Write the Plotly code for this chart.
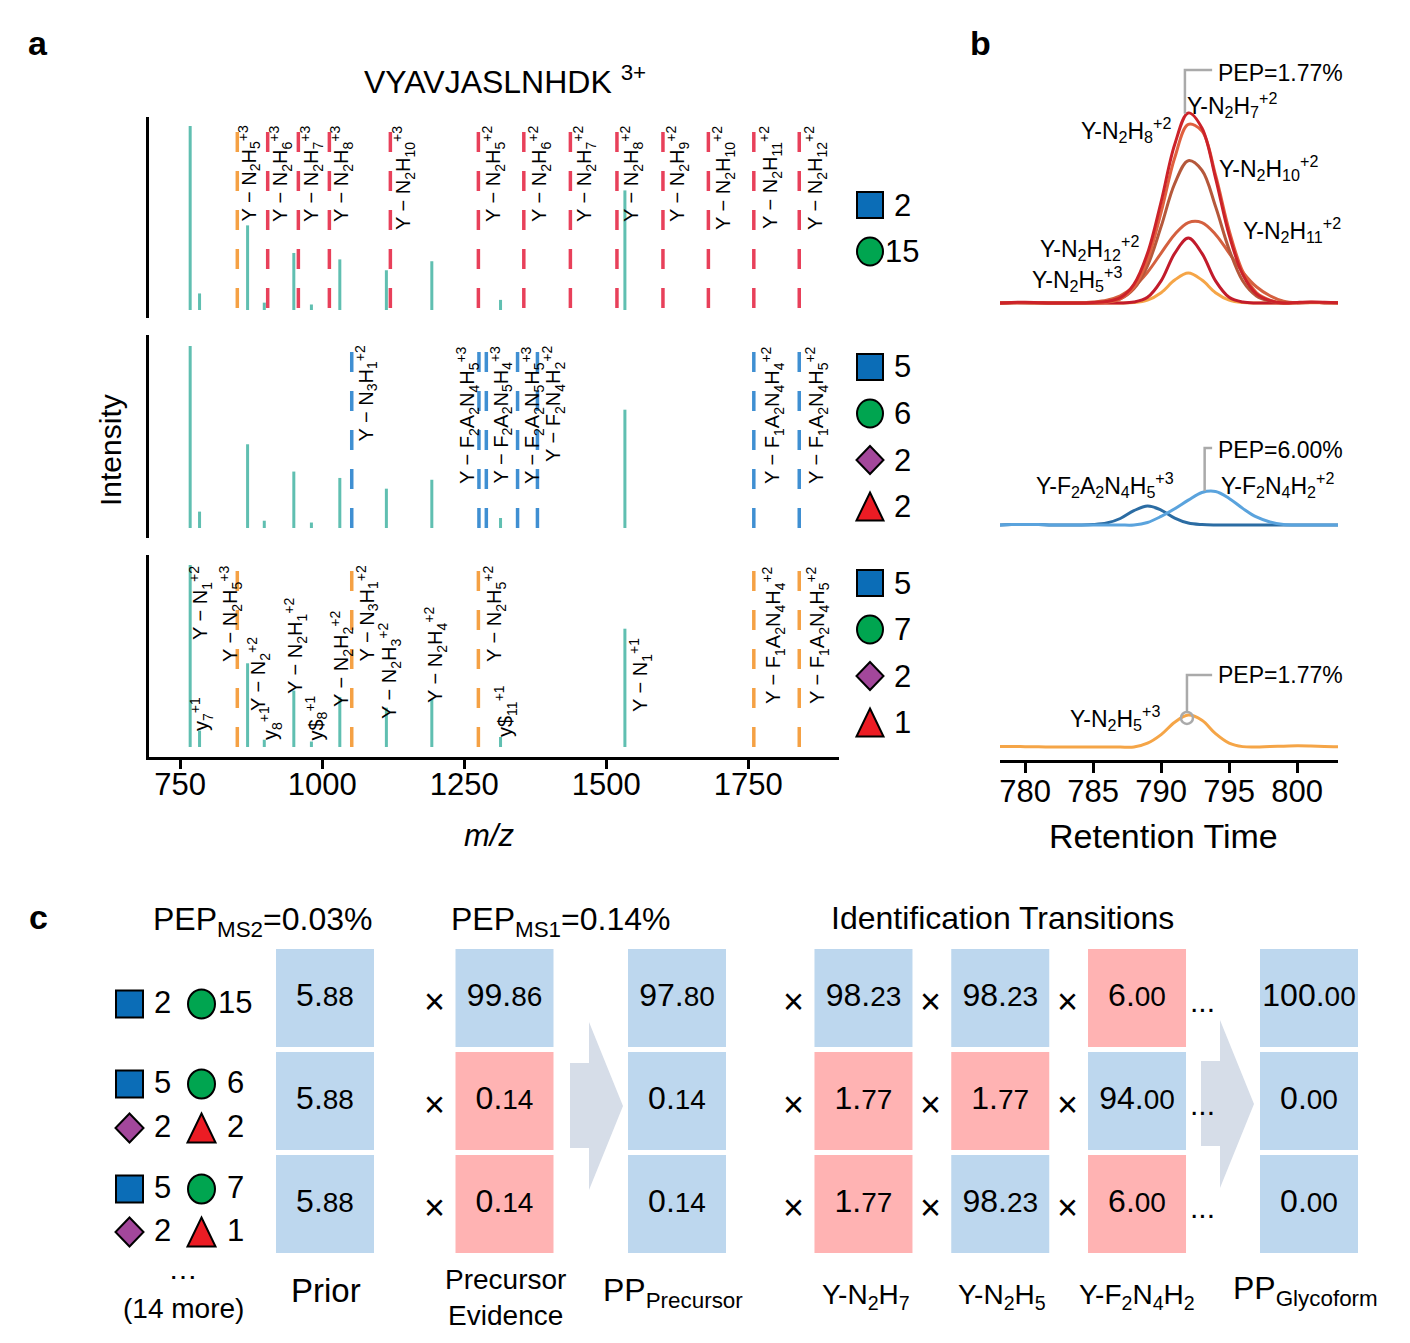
import plotly.graph_objects as go

# the page body has an 8px margin: the figure is drawn 8px in from the window edge
OFF = 8
W, H = 1410 - 2 * OFF, 1343 - 2 * OFF
FONT = "Liberation Sans, Arial, Helvetica, sans-serif"


def PX(x):
    return (x - OFF) / W


def PY(y):
    return 1 - (y - OFF) / H


# ======================= DATA =======================
# panel a : observed MS2 peaks (m/z, relative intensity %)
peak_mz = [767.5, 784, 868.6, 898, 950, 981, 1031, 1113, 1193, 1314, 1533]
peak_int = [100, 9, 46, 4, 31, 3, 27.5, 21.6, 26.5, 5.5, 65]

# theoretical Y-ion m/z per candidate glycoform
cand1_orange = [850.5]
cand1_red = [904, 958, 1012.6, 1120, 1275, 1355, 1437, 1519, 1600, 1680, 1760, 1840]
cand2_blue = [1052, 1276, 1289, 1344, 1379, 1760, 1840]
cand3_orange = [850.5, 1052, 1275, 1760, 1840]
mz_ticks = [750, 1000, 1250, 1500, 1750]

# glycan compositions of the three candidates (N=HexNAc, H=Hex, A=NeuAc, F=Fuc)
comp_N = [2, 5, 5]
comp_H = [15, 6, 7]
comp_A = [None, 2, 2]
comp_F = [None, 2, 1]

# panel b : extracted ion chromatograms
rt = [778, 779, 780, 781, 782, 783, 784, 785, 786, 787, 788, 789, 790,
      791, 792, 793, 794, 795, 796, 797, 798, 799, 800, 801, 802, 803]
xic_N2H7_2 = [0, 0.3, 0.4, 0.2, 0, 0, 0, 0.3, 0.8, 2.8, 9.8, 26, 53,
              83, 99.5, 91.6, 65.4, 35.6, 14.9, 4.8, 1.2, 0, 0.3, 0.5, 0.4, 0.2]
xic_N2H8_2 = [0, 0.2, 0.3, 0.1, 0, 0, 0, 0, 0.4, 2.2, 8.2, 22.5, 47.5,
              76, 93.5, 90, 67, 38, 16.5, 5.5, 1.5, 0, 0.2, 0.4, 0.3, 0.1]
xic_N2H10_2 = [0, 0.2, 0.2, 0.1, 0, 0, 0, 0, 0.5, 2.1, 7.4, 19.5, 40,
               62.5, 74.5, 69.5, 50.5, 28, 11.5, 3.7, 1, 0, 0.2, 0.3, 0.2, 0.1]
xic_N2H11_2 = [0, 0.1, 0.2, 0.1, 0, 0, 0, 0.5, 1.5, 3.8, 8.5, 16.1, 26.1,
               35.9, 42.1, 42.1, 35.9, 26.1, 16.1, 8.5, 3.8, 1.0, 0.2, 0.3, 0.2, 0.1]
xic_N2H12_2 = [0, 0.1, 0.2, 0.1, 0, 0, 0, 0, 0, 0, 0.5, 3, 11.6,
               26, 34, 26, 11.6, 3, 0.5, 0, 0, 0, 0.2, 0.3, 0.2, 0.1]
xic_N2H5_3 = [0, 0.1, 0.1, 0, 0, 0, 0, 0, 0, 0, 0.2, 1.5, 5.4,
              12, 15.7, 12, 5.4, 1.5, 0.2, 0, 0, 0, 0.1, 0.2, 0.1, 0]
xic_F2A2N4H5_3 = [0, 0.2, 0.3, 0.2, 0, 0, 0, 0.2, 1.0, 3.4, 7.5, 9.9, 7.8,
                  3.6, 1.0, 0.2, 0, 0, 0, 0, 0, 0, 0, 0, 0, 0]
xic_F2N4H2_2 = [0, 0.2, 0.3, 0.2, 0, 0, 0, 0, 0, 0, 0, 1.3, 4.5,
                8.5, 13, 17, 17.5, 13.9, 8.7, 4.2, 1.6, 0.3, 0, 0, 0, 0]
xic_N2H5_3_c3 = [0.2, 0.3, 0.2, 0.1, 0, 0, 0, 0, 0, 0, 0, 2, 6.5,
                 13, 16.7, 14, 7, 2, 0.2, 0, 0.3, 0.4, 0.6, 0.5, 0.3, 0.2]
rt_ticks = [780, 785, 790, 795, 800]

# PEP call-outs (retention time, intensity)
lead_top_x = [791.75, 791.75, 793.75]
lead_top_y = [99, 122, 122]
lead_mid_x = [793.2, 793.2, 793.75]
lead_mid_y = [17.8, 40.3, 40.3]
lead_bot_x = [791.9, 791.9, 793.75]
lead_bot_y = [18.4, 37.7, 37.7]
apex_bot_x = [791.9]
apex_bot_y = [15.2]
pep_texts = ["PEP=1.77%", "PEP=6.00%", "PEP=1.77%"]

# panel c : posterior computation (%)
prior = [5.88, 5.88, 5.88]
precursor_ev = [99.86, 0.14, 0.14]
pp_precursor = [97.80, 0.14, 0.14]
trans_names = ["Y-N<sub>2</sub>H<sub>7</sub>", "Y-N<sub>2</sub>H<sub>5</sub>",
               "Y-F<sub>2</sub>N<sub>4</sub>H<sub>2</sub>"]
trans_N2H7 = [98.23, 1.77, 1.77]
trans_N2H5 = [98.23, 1.77, 98.23]
trans_F2N4H2 = [6.00, 94.00, 6.00]
pp_glycoform = [100.00, 0.00, 0.00]
rows = [0, 1, 2]

# ======================= STYLE =======================
TEAL = "#60bfb1"
RED = "#e8405a"
ORANGE = "#f5a144"
BLUE = "#3f8fd2"
CELL_BLUE = "#bdd7ee"
CELL_PINK = "#ffb3b3"
ARROW = "#d6dde8"
GLY = {"N": "#0b6db7", "H": "#00a550", "A": "#a3479b", "F": "#ec1c24"}
GREY = "#aaaaaa"
DASH_TOP = 96.7

fig = go.Figure()

# ---------------- panel a ----------------
def dashed(mzs, color, yax):
    for m in mzs:
        fig.add_trace(go.Scatter(x=[m, m], y=[DASH_TOP, 0], mode="lines",
                                 line=dict(color=color, width=3.5, dash="20px,19px"),
                                 xaxis="x", yaxis=yax, showlegend=False, hoverinfo="skip"))


dashed(cand1_orange, ORANGE, "y")
dashed(cand1_red, RED, "y")
dashed(cand2_blue, BLUE, "y2")
dashed(cand3_orange, ORANGE, "y3")
for yax in ["y", "y2", "y3"]:
    fig.add_trace(go.Bar(x=peak_mz, y=peak_int, width=5.3,
                         marker=dict(color=TEAL, line=dict(width=0)),
                         xaxis="x", yaxis=yax, showlegend=False, hoverinfo="skip"))

# ---------------- panel b ----------------
def xic(y, color, yax):
    fig.add_trace(go.Scatter(x=rt, y=y, mode="lines",
                             line=dict(color=color, width=3, shape="spline", smoothing=1.0),
                             xaxis="x2", yaxis=yax, showlegend=False, hoverinfo="skip"))


xic(xic_N2H5_3, "#f5a547", "y4")
xic(xic_N2H11_2, "#d4603f", "y4")
xic(xic_N2H12_2, "#c21b2b", "y4")
xic(xic_N2H10_2, "#b5583b", "y4")
xic(xic_N2H8_2, "#e0603f", "y4")
xic(xic_N2H7_2, "#cc2229", "y4")
xic(xic_F2A2N4H5_3, "#2b6ca3", "y5")
xic(xic_F2N4H2_2, "#5aa3dd", "y5")
xic(xic_N2H5_3_c3, "#f5a547", "y6")

for lx, ly, yax in [(lead_top_x, lead_top_y, "y4"), (lead_mid_x, lead_mid_y, "y5"),
                    (lead_bot_x, lead_bot_y, "y6")]:
    fig.add_trace(go.Scatter(x=lx, y=ly, mode="lines", line=dict(color=GREY, width=2.5),
                             xaxis="x2", yaxis=yax, showlegend=False, hoverinfo="skip"))
fig.add_trace(go.Scatter(x=apex_bot_x, y=apex_bot_y, mode="markers",
                         marker=dict(symbol="circle-open", size=12, color=GREY, line=dict(width=2.5)),
                         xaxis="x2", yaxis="y6", showlegend=False, hoverinfo="skip"))

# ---------------- panel c ----------------
def fmt(v):
    i, d = f"{v:.2f}".split(".")
    return f"{i}.<span style='font-size:28px'>{d}</span>"


def cells(vals_cols, xax, evidence):
    xs, ys, cs, ts = [], [], [], []
    for ci, vals in enumerate(vals_cols):
        for r, v in zip(rows, vals):
            xs.append(ci)
            ys.append(r)
            cs.append(CELL_PINK if (evidence and v < 50) else CELL_BLUE)
            ts.append(fmt(v))
    fig.add_trace(go.Scatter(x=xs, y=ys, mode="markers+text", text=ts,
                             textposition="middle center",
                             textfont=dict(family=FONT, size=32, color="black"),
                             marker=dict(symbol="square", size=98, color=cs, line=dict(width=0)),
                             xaxis=xax, yaxis="y7", cliponaxis=False,
                             showlegend=False, hoverinfo="skip"))


cells([prior], "x3", False)
cells([precursor_ev], "x4", True)
cells([pp_precursor], "x5", False)
cells([trans_N2H7, trans_N2H5, trans_F2N4H2], "x6", True)
cells([pp_glycoform], "x7", False)

# ======================= LAYOUT =======================
axis_off = dict(visible=False, showgrid=False, zeroline=False, fixedrange=True)


def col_dom(c, half=68):
    return [PX(c - half), PX(c + half)]


layout = dict(
    width=W, height=H, autosize=False,
    margin=dict(l=0, r=0, t=0, b=0),
    paper_bgcolor="white", plot_bgcolor="white",
    font=dict(family=FONT, color="black"),
    showlegend=False, hovermode=False, barmode="overlay",
    xaxis=dict(domain=[PX(149), PX(839)], range=[695, 1910], anchor="y3",
               showline=True, linecolor="black", linewidth=2.5, ticks="outside",
               ticklen=9, tickwidth=2.7, tickcolor="black", tickvals=mz_ticks,
               tickfont=dict(size=31), ticklabelstandoff=-11,
               showgrid=False, zeroline=False),
    yaxis=dict(domain=[PY(318), PY(117)], range=[-4.35, 104.9], anchor="x",
               showline=True, linecolor="black", linewidth=2.5, showticklabels=False,
               ticks="", showgrid=False, zeroline=False),
    yaxis2=dict(domain=[PY(538), PY(335)], range=[-5.5, 106.04], anchor="x",
                showline=True, linecolor="black", linewidth=2.5, showticklabels=False,
                ticks="", showgrid=False, zeroline=False),
    yaxis3=dict(domain=[PY(757), PY(555)], range=[-5.5, 105.5], anchor="x",
                showline=True, linecolor="black", linewidth=2.5, showticklabels=False,
                ticks="", showgrid=False, zeroline=False),
    xaxis2=dict(domain=[PX(1000), PX(1338)], range=[778.16, 803.0], anchor="y6",
                showline=True, linecolor="black", linewidth=2.5, ticks="outside",
                ticklen=10, tickwidth=2.7, tickcolor="black", tickvals=rt_ticks,
                tickfont=dict(size=31), ticklabelstandoff=-8,
                showgrid=False, zeroline=False),
    yaxis4=dict(domain=[PY(310), PY(60)], range=[-3.66, 127.2], anchor="x2", **axis_off),
    yaxis5=dict(domain=[PY(535), PY(440)], range=[-5.24, 44.5], anchor="x2", **axis_off),
    yaxis6=dict(domain=[PY(760), PY(650)], range=[-6.8, 50.8], anchor="x2", **axis_off),
    yaxis7=dict(domain=[PY(1255.5), PY(946.5)], range=[2.5, -0.5], anchor="x3", **axis_off),
    xaxis3=dict(domain=col_dom(325), range=[-0.5, 0.5], anchor="y7", **axis_off),
    xaxis4=dict(domain=col_dom(504.5), range=[-0.5, 0.5], anchor="y7", **axis_off),
    xaxis5=dict(domain=col_dom(677), range=[-0.5, 0.5], anchor="y7", **axis_off),
    xaxis6=dict(domain=[PX(795.1), PX(1205.4)], range=[-0.5, 2.5], anchor="y7", **axis_off),
    xaxis7=dict(domain=col_dom(1309), range=[-0.5, 0.5], anchor="y7", **axis_off),
)

ann = []


def txt(text, x, y, size=28, xa="center", ya="middle", angle=0, bold=False):
    if bold:
        text = f"<b>{text}</b>"
    ann.append(dict(text=text, x=PX(x), y=PY(y), xref="paper", yref="paper",
                    xanchor=xa, yanchor=ya, showarrow=False, textangle=angle,
                    borderpad=0, font=dict(size=size, family=FONT, color="black")))


# panel letters / titles
txt("a", 38, 43, 34, bold=True)
txt("b", 980, 43, 34, bold=True)
txt("c", 38, 917, 34, bold=True)
txt("VYAVJASLNHDK <sup>3+</sup>", 505, 80, 32)
txt("Intensity", 110, 450, 30, angle=-90)
txt("<i>m/z</i>", 489, 835, 31)
txt("Retention Time", 1163, 836, 34)


def Y(body, ch, sep=" − "):
    return f"Y{sep}{body}<sup>{ch}</sup>"


def sub(s):
    out = ""
    i = 0
    while i < len(s):
        c = s[i]
        if c.isalpha():
            j = i + 1
            while j < len(s) and s[j].isdigit():
                j += 1
            out += c + (f"<sub>{s[i+1:j]}</sub>" if j > i + 1 else "")
            i = j
        else:
            out += c
            i += 1
    return out


# panel a fragment labels: (composition, charge, centre x px) / top y px
lab_top = [("N2H5", "+3", 249.5), ("N2H6", "+3", 281), ("N2H7", "+3", 312),
           ("N2H8", "+3", 342), ("N2H10", "+3", 404), ("N2H5", "+2", 494),
           ("N2H6", "+2", 540), ("N2H7", "+2", 585), ("N2H8", "+2", 632),
           ("N2H9", "+2", 678), ("N2H10", "+2", 724), ("N2H11", "+2", 770.5),
           ("N2H12", "+2", 816)]
for comp, ch, cx in lab_top:
    txt(Y(sub(comp), ch), cx, 125, 20, ya="top", angle=-90)

lab_mid = [("N3H1", "+2", 366.5), ("F2A2N4H5", "+3", 468), ("F2A2N5H4", "+3", 501.5),
           ("F2A2N5H5", "+3", 533), ("F2N4H2", "+2", 554), ("F1A2N4H4", "+2", 773),
           ("F1A2N4H5", "+2", 817)]
for comp, ch, cx in lab_mid:
    txt(Y(sub(comp), ch), cx, 345, 20, ya="top", angle=-90)

lab_bot = [(Y(sub("N1"), "+2"), 200, 565), (Y(sub("N2H5"), "+3"), 230, 565),
           (Y(sub("N2"), "+2"), 259, 636), (Y(sub("N2H1"), "+2"), 295, 597),
           (Y(sub("N2H2"), "+2"), 341, 610), (Y(sub("N3H1"), "+2"), 366.5, 565),
           (Y(sub("N2H3"), "+2"), 389, 622), (Y(sub("N2H4"), "+2"), 435, 606),
           (Y(sub("N2H5"), "+2"), 494, 565), (Y(sub("N1"), "+1"), 640, 637),
           (Y(sub("F1A2N4H4"), "+2"), 773, 565), (Y(sub("F1A2N4H5"), "+2"), 817, 565)]
for t, cx, top in lab_bot:
    txt(t, cx, top, 20, ya="top", angle=-90)
# small peptide-ion labels sitting on their peaks: (text, centre x px, bottom y px)
lab_pep = [("y<sub>7</sub><sup>+1</sup>", 201, 732), ("y<sub>8</sub><sup>+1</sup>", 270, 741),
           ("y$<sub>8</sub><sup>+1</sup>", 316, 742), ("y$<sub>11</sub><sup>+1</sup>", 505, 738)]
for t, cx, bot in lab_pep:
    txt(t, cx, bot, 20, ya="bottom", angle=-90)

# panel b labels
lab_b = [("N2H8", "+2", 1126, 130), ("N2H7", "+2", 1232, 105), ("N2H10", "+2", 1268, 168),
         ("N2H11", "+2", 1292, 230), ("N2H12", "+2", 1089, 248), ("N2H5", "+3", 1077, 279),
         ("F2A2N4H5", "+3", 1105, 485), ("F2N4H2", "+2", 1277, 485), ("N2H5", "+3", 1115, 718)]
for comp, ch, cx, cy in lab_b:
    txt(Y(sub(comp), ch, sep="-"), cx, cy, 23)
for t, cy in zip(pep_texts, [73, 450, 675]):
    txt(t, 1217, cy, 23, xa="left")

# panel c texts
txt("PEP<sub>MS2</sub>=0.03%", 263, 921, 32)
txt("PEP<sub>MS1</sub>=0.14%", 561, 921, 32)
txt("Identification Transitions", 1002, 918, 32)
txt("Prior", 326, 1290, 33)
txt("Precursor<br>Evidence", 505, 1297, 28)
txt("PP<sub>Precursor</sub>", 673, 1292, 32)
for name, cx in zip(trans_names, [866, 1002, 1137]):
    txt(name, cx, 1296, 28)
txt("PP<sub>Glycoform</sub>", 1305, 1290, 32)
txt("⋯", 183, 1276, 28)
txt("(14 more)", 183, 1308, 28)
for cy in [1001, 1104, 1207]:
    for cx in [434, 793, 930, 1067]:
        txt("×", cx, cy, 36)
    txt("...", 1202, cy, 30)

# glycan glyphs (legend keys)
shapes = []


def glyph(kind, cx, cy, s=27):
    col = GLY[kind]
    base = dict(xref="paper", yref="paper", fillcolor=col, line=dict(color="black", width=2))
    if kind == "N":
        shapes.append(dict(type="rect", x0=PX(cx - s / 2), x1=PX(cx + s / 2),
                           y0=PY(cy + s / 2), y1=PY(cy - s / 2), **base))
    elif kind == "H":
        shapes.append(dict(type="circle", x0=PX(cx - s / 2), x1=PX(cx + s / 2),
                           y0=PY(cy + s / 2 + 1), y1=PY(cy - s / 2 - 1), **base))
    elif kind == "A":
        w, h = s + 1, s + 2
        p = (f"M{PX(cx)},{PY(cy - h / 2)} L{PX(cx + w / 2)},{PY(cy)} "
             f"L{PX(cx)},{PY(cy + h / 2)} L{PX(cx - w / 2)},{PY(cy)} Z")
        shapes.append(dict(type="path", path=p, **base))
    else:
        w, h = s + 1, s + 2
        p = (f"M{PX(cx)},{PY(cy - h / 2)} L{PX(cx + w / 2)},{PY(cy + h / 2)} "
             f"L{PX(cx - w / 2)},{PY(cy + h / 2)} Z")
        shapes.append(dict(type="path", path=p, **base))


# panel a legend
group_top = [205, 367, 583]
for g in range(3):
    items = [("N", comp_N[g]), ("H", comp_H[g]), ("A", comp_A[g]), ("F", comp_F[g])]
    items = [it for it in items if it[1] is not None]
    for k, (kind, n) in enumerate(items):
        cy = group_top[g] + k * 46.5
        glyph(kind, 870, cy, 26)
        txt(str(n), 902, cy, 31)

# panel c composition column
line_y = [[1004], [1084, 1128], [1189, 1232]]
for r in rows:
    pairs = [(("N", comp_N[r]), ("H", comp_H[r]))]
    if comp_A[r] is not None:
        pairs.append((("A", comp_A[r]), ("F", comp_F[r])))
    for (a, b), cy in zip(pairs, line_y[r]):
        glyph(a[0], 129.5, cy, 27)
        txt(str(a[1]), 162, cy - 2, 31)
        glyph(b[0], 201.5, cy, 27)
        txt(str(b[1]), 235, cy - 2, 31)

# big arrows in panel c
for bx0, bx1, tip, cy in [(570, 589, 623, 1106), (1201, 1220, 1254, 1104)]:
    p = (f"M{PX(bx0)},{PY(cy - 43)} L{PX(bx1)},{PY(cy - 43)} L{PX(bx1)},{PY(cy - 84)} "
         f"L{PX(tip)},{PY(cy)} L{PX(bx1)},{PY(cy + 84)} L{PX(bx1)},{PY(cy + 42)} "
         f"L{PX(bx0)},{PY(cy + 42)} Z")
    shapes.append(dict(type="path", path=p, xref="paper", yref="paper",
                       fillcolor=ARROW, line=dict(width=0), layer="below"))

layout["annotations"] = ann
layout["shapes"] = shapes
fig.update_layout(**layout)
fig.write_html("out.html")
